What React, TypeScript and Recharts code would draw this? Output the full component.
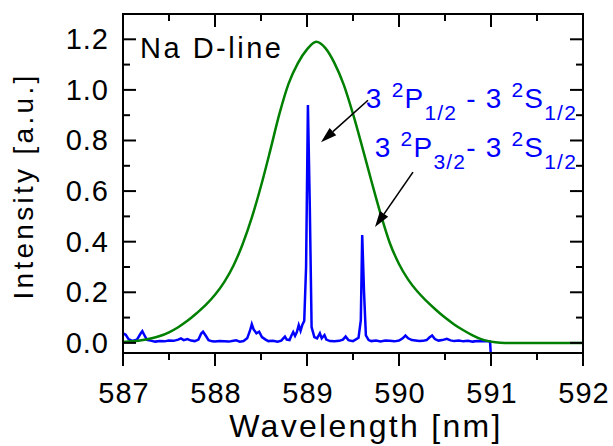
import { LineChart, Line, XAxis, YAxis, ReferenceLine, ReferenceDot } from "recharts";

const FONT = '"Liberation Sans", Arial, sans-serif';

// axis ticks
const xTicks = [587, 587.5, 588, 588.5, 589, 589.5, 590, 590.5, 591, 591.5, 592];
const xLabelTicks = [587, 588, 589, 590, 591, 592];
const yTicks = [0, 0.1, 0.2, 0.3, 0.4, 0.5, 0.6, 0.7, 0.8, 0.9, 1.0, 1.1, 1.2, 1.3];
const yLabelTicks = [0, 0.2, 0.4, 0.6, 0.8, 1.0, 1.2];

// measured spectrum (blue)
const specWl = [
  587.0, 587.03, 587.06, 587.1, 587.15, 587.19, 587.21, 587.23, 587.26, 587.3,
  587.35, 587.4, 587.45, 587.5, 587.55, 587.6, 587.63, 587.66, 587.7, 587.74,
  587.78, 587.82, 587.85, 587.87, 587.9, 587.93, 587.97, 588.0, 588.05, 588.1,
  588.15, 588.2, 588.23, 588.27, 588.31, 588.35, 588.38, 588.4, 588.42, 588.45,
  588.48, 588.51, 588.55, 588.58, 588.63, 588.68, 588.72, 588.76, 588.78, 588.81,
  588.83, 588.85, 588.87, 588.89, 588.91, 588.93, 588.95, 588.97, 588.99, 589.01,
  589.03, 589.05, 589.08, 589.11, 589.14, 589.16, 589.19, 589.21, 589.25, 589.3,
  589.35, 589.39, 589.42, 589.45, 589.5, 589.56, 589.585, 589.6, 589.62, 589.64,
  589.67, 589.7, 589.75, 589.8, 589.85, 589.9, 589.95, 590.0, 590.04, 590.07,
  590.1, 590.14, 590.18, 590.22, 590.26, 590.3, 590.33, 590.36, 590.39, 590.43,
  590.47, 590.52, 590.56, 590.6, 590.65, 590.7, 590.75, 590.8, 590.85, 590.9,
  590.95, 590.99, 591.0,
];
const specInt = [
  0.038, 0.032, 0.015, 0.008, 0.012, 0.036, 0.046, 0.032, 0.012, 0.009,
  0.005, 0.007, 0.006, 0.009, 0.008, 0.013, 0.018, 0.011, 0.015, 0.009,
  0.007, 0.013, 0.037, 0.044, 0.028, 0.011, 0.006, 0.005, 0.007, 0.006,
  0.005, 0.008, 0.01, 0.005, 0.007, 0.018, 0.048, 0.074, 0.053, 0.038,
  0.044, 0.023, 0.013, 0.007, 0.008, 0.005, 0.009, 0.025, 0.013, 0.011,
  0.028, 0.043, 0.028, 0.043, 0.07, 0.048, 0.072, 0.087, 0.3, 0.94,
  0.55, 0.062, 0.023, 0.018, 0.038, 0.018, 0.031, 0.013, 0.007, 0.006,
  0.008, 0.013, 0.025, 0.011, 0.007, 0.02, 0.09, 0.426, 0.2, 0.03,
  0.011, 0.007, 0.009, 0.006, 0.009, 0.008, 0.006, 0.009, 0.018, 0.029,
  0.018, 0.011, 0.009, 0.007, 0.008, 0.011, 0.021, 0.029, 0.015, 0.009,
  0.011, 0.016, 0.01, 0.007, 0.009, 0.006, 0.008, 0.005, 0.007, 0.006,
  0.007, 0.005, -0.06,
];

// broad profile (green)
const profWl = [
  587.0, 587.1, 587.2, 587.3, 587.4, 587.5, 587.6, 587.7, 587.8, 587.9,
  588.0, 588.1, 588.2, 588.3, 588.4, 588.5, 588.6, 588.7, 588.8, 588.9,
  589.0, 589.1, 589.2, 589.3, 589.4, 589.5, 589.6, 589.7, 589.8, 589.9,
  590.0, 590.1, 590.2, 590.3, 590.4, 590.5, 590.6, 590.7, 590.8, 590.9,
  591.0, 591.1, 591.2, 591.5, 592.0,
];
const profInt = [
  0.003, 0.006, 0.01, 0.017, 0.027, 0.042, 0.062, 0.087, 0.117, 0.15,
  0.19, 0.24, 0.305, 0.39, 0.495, 0.62, 0.76, 0.905, 1.025, 1.105,
  1.16, 1.19, 1.165, 1.105, 1.02, 0.905, 0.775, 0.64, 0.51, 0.395,
  0.312, 0.25, 0.203, 0.165, 0.131, 0.1, 0.073, 0.05, 0.03, 0.014,
  0.005, 0.001, 0, 0, 0,
];

const spectrum = specWl.map((x, i) => ({ x, y: specInt[i] }));
const profile = profWl.map((x, i) => ({ x, y: profInt[i] }));

const near = (list: number[], v: number) => list.some((t) => Math.abs(t - v) < 1e-6);

const BottomTick = (p: any) => {
  const major = near(xLabelTicks, p.payload.value);
  return (
    <g>
      <line x1={p.x} x2={p.x} y1={p.y} y2={p.y + (major ? 13 : 7)} stroke="#000" strokeWidth={2} />
      {major && (
        <text x={p.x + 1} y={p.y + 50} textAnchor="middle" fontSize={29} fontFamily={FONT} letterSpacing={1} fill="#000">
          {p.payload.value}
        </text>
      )}
    </g>
  );
};

const TopTick = (p: any) => {
  const major = near(xLabelTicks, p.payload.value);
  return <line x1={p.x} x2={p.x} y1={p.y} y2={p.y + (major ? 13 : 7)} stroke="#000" strokeWidth={2} />;
};

const LeftTick = (p: any) => {
  const major = near(yLabelTicks, p.payload.value);
  return (
    <g>
      <line x1={p.x} x2={p.x + (major ? 13 : 7)} y1={p.y} y2={p.y} stroke="#000" strokeWidth={2} />
      {major && (
        <text x={p.x - 14} y={p.y + 10} textAnchor="end" fontSize={29} fontFamily={FONT} letterSpacing={1} fill="#000">
          {p.payload.value.toFixed(1)}
        </text>
      )}
    </g>
  );
};

const RightTick = (p: any) => {
  const major = near(yLabelTicks, p.payload.value);
  return <line x1={p.x} x2={p.x - (major ? 13 : 7)} y1={p.y} y2={p.y} stroke="#000" strokeWidth={2} />;
};

const Arrow = (p: any) => {
  const { x1, y1, x2, y2 } = p;
  const a = Math.atan2(y2 - y1, x2 - x1);
  const L = 16;
  const W = 5;
  const bx = x2 - L * Math.cos(a);
  const by = y2 - L * Math.sin(a);
  const nx = -Math.sin(a) * W;
  const ny = Math.cos(a) * W;
  return (
    <g>
      <line x1={x1} y1={y1} x2={bx} y2={by} stroke="#000" strokeWidth={1.6} />
      <polygon points={`${x2},${y2} ${bx + nx},${by + ny} ${bx - nx},${by - ny}`} fill="#000" />
    </g>
  );
};

const Transition = ({ cx, cy, upper }: any) => (
  <text x={cx} y={cy} textAnchor="end" fill="#0000ff" fontSize={28} fontFamily={FONT} letterSpacing={1.2} style={{ whiteSpace: "pre" }}>
    <tspan>3 </tspan>
    <tspan fontSize={21} dy={-11}>2</tspan>
    <tspan dy={11}>P</tspan>
    <tspan fontSize={21} dy={12}>{upper}</tspan>
    <tspan dy={-12}>{upper === "1/2" ? " - 3 " : "- 3 "}</tspan>
    <tspan fontSize={21} dy={-11}>2</tspan>
    <tspan dy={11}>S</tspan>
    <tspan fontSize={21} dy={12}>1/2</tspan>
  </text>
);

const axisLine = { stroke: "#000", strokeWidth: 2, strokeLinecap: "square" as const };

export default function App() {
  return (
    <div style={{ position: "absolute", left: 0, top: 0, background: "#fff" }}>
      <LineChart width={613} height={446} margin={{ top: 0, right: 0, bottom: 0, left: 0 }}>
        <XAxis
          dataKey="x"
          type="number"
          domain={[587, 592]}
          ticks={xTicks}
          interval={0}
          allowDataOverflow
          height={93}
          tickSize={0}
          tickMargin={0}
          tickLine={false}
          axisLine={axisLine}
          tick={(p: any) => <BottomTick {...p} />}
          label={{
            content: () => (
              <text x={366} y={437} textAnchor="middle" fontSize={32} fontFamily={FONT} letterSpacing={2.3} fill="#000">
                Wavelength [nm]
              </text>
            ),
          }}
        />
        <XAxis
          xAxisId="top"
          orientation="top"
          dataKey="x"
          type="number"
          domain={[587, 592]}
          ticks={xTicks}
          interval={0}
          allowDataOverflow
          height={14}
          tickSize={0}
          tickMargin={0}
          tickLine={false}
          axisLine={axisLine}
          tick={(p: any) => <TopTick {...p} />}
        />
        <YAxis
          type="number"
          domain={[-0.04, 1.3]}
          ticks={yTicks}
          interval={0}
          allowDataOverflow
          width={123}
          tickSize={0}
          tickMargin={0}
          tickLine={false}
          axisLine={axisLine}
          tick={(p: any) => <LeftTick {...p} />}
          label={{
            content: () => (
              <text x={33} y={186} transform="rotate(-90 33 186)" textAnchor="middle" fontSize={28} fontFamily={FONT} letterSpacing={3.3} fill="#000">
                Intensity [a.u.]
              </text>
            ),
          }}
        />
        <YAxis
          yAxisId="right"
          orientation="right"
          type="number"
          domain={[-0.04, 1.3]}
          ticks={yTicks}
          interval={0}
          allowDataOverflow
          width={30}
          tickSize={0}
          tickMargin={0}
          tickLine={false}
          axisLine={axisLine}
          tick={(p: any) => <RightTick {...p} />}
        />
        <Line data={spectrum} dataKey="y" type="linear" stroke="#0000ff" strokeWidth={2.5} dot={false} isAnimationActive={false} />
        <Line data={profile} dataKey="y" type="monotone" stroke="#008000" strokeWidth={2.5} dot={false} isAnimationActive={false} />
        <ReferenceLine segment={[{ x: 589.663, y: 0.959 }, { x: 589.152, y: 0.793 }]} ifOverflow="visible" shape={(p: any) => <Arrow {...p} />} />
        <ReferenceLine segment={[{ x: 590.152, y: 0.675 }, { x: 589.739, y: 0.458 }]} ifOverflow="visible" shape={(p: any) => <Arrow {...p} />} />
        <ReferenceDot x={591.935} y={0.928} r={0} ifOverflow="visible" shape={(p: any) => <Transition cx={p.cx} cy={p.cy} upper="1/2" />} />
        <ReferenceDot x={591.935} y={0.734} r={0} ifOverflow="visible" shape={(p: any) => <Transition cx={p.cx} cy={p.cy} upper="3/2" />} />
        <ReferenceDot
          x={587.185}
          y={1.127}
          r={0}
          ifOverflow="visible"
          shape={(p: any) => (
            <text x={p.cx} y={p.cy} fontSize={29} fontFamily={FONT} letterSpacing={2.5} fill="#000">
              Na D-line
            </text>
          )}
        />
      </LineChart>
    </div>
  );
}
